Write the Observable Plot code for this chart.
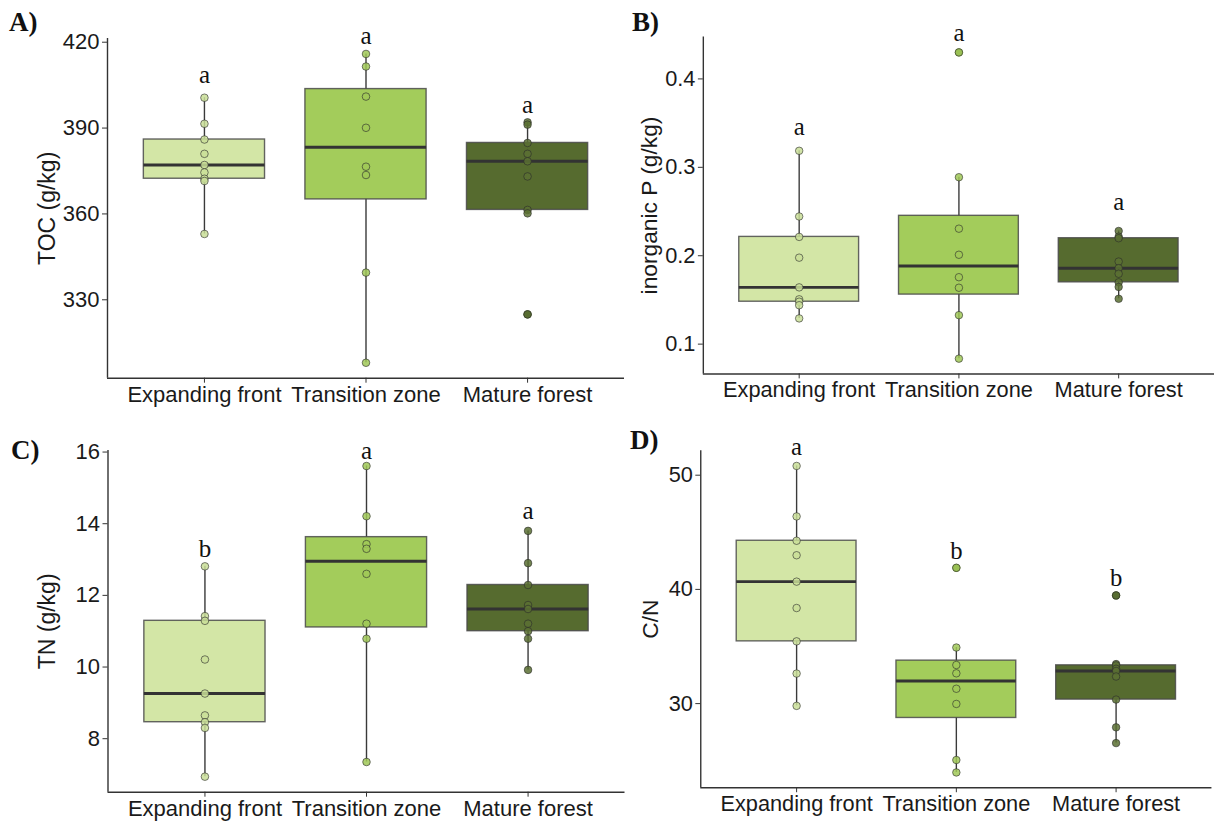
<!DOCTYPE html>
<html><head><meta charset="utf-8">
<script src="https://cdn.jsdelivr.net/npm/d3@7"></script>
<script src="https://cdn.jsdelivr.net/npm/@observablehq/plot@0.6"></script>
<style>
body{margin:0;background:#fff;overflow:hidden;width:1216px;height:823px;position:relative;font-family:"Liberation Sans",Arial,sans-serif}
.panel{position:absolute}
.tag{position:absolute;font-family:"Liberation Serif",serif;font-weight:bold;font-size:27px;line-height:1;color:#111}
</style></head><body>
<script>
const zones = ["Expanding front", "Transition zone", "Mature forest"];

// A) TOC (g/kg)
const tocExpanding = [400.6, 391.5, 386.0, 381.0, 377.1, 374.5, 372.3, 371.5, 353.0];
const tocTransition = [415.9, 411.5, 401.0, 390.1, 376.5, 373.6, 339.5, 308.0];
const tocMature = [392.0, 391.2, 384.8, 381.0, 378.4, 373.1, 361.4, 360.2, 324.9];
const tocTicks = [330, 360, 390, 420];
const tocLetters = ["a", "a", "a"];
const tocLetterY = [407.7, 421.3, 397.2];

// B) inorganic P (g/kg)
const ipExpanding = [0.3187, 0.2444, 0.2213, 0.1978, 0.1642, 0.1507, 0.148, 0.144, 0.1291];
const ipTransition = [0.43, 0.2888, 0.2306, 0.2011, 0.1757, 0.1638, 0.1328, 0.0836];
const ipMature = [0.228, 0.2216, 0.2198, 0.1934, 0.1859, 0.1796, 0.1699, 0.1647, 0.1513];
const ipTicks = [0.1, 0.2, 0.3, 0.4];
const ipLetters = ["a", "a", "a"];
const ipLetterY = [0.3434, 0.4495, 0.2585];

// C) TN (g/kg)
const tnExpanding = [12.81, 11.42, 11.29, 10.21, 9.26, 8.65, 8.46, 8.30, 6.94];
const tnTransition = [15.61, 14.21, 13.43, 13.30, 12.60, 11.21, 10.79, 7.35];
const tnMature = [13.80, 12.90, 12.29, 11.73, 11.62, 11.21, 11.0, 10.79, 9.92];
const tnTicks = [8, 10, 12, 14, 16];
const tnLetters = ["b", "a", "a"];
const tnLetterY = [13.25, 15.97, 14.29];

// D) C/N
const cnExpanding = [50.81, 46.39, 44.26, 42.99, 40.68, 38.37, 35.45, 32.63, 29.80];
const cnTransition = [41.89, 34.91, 33.38, 32.65, 31.30, 29.97, 25.06, 23.97];
const cnMature = [39.47, 33.46, 33.35, 33.05, 32.86, 32.37, 30.35, 27.92, 26.54];
const cnTicks = [30, 40, 50];
const cnLetters = ["a", "b", "b"];
const cnLetterY = [52.29, 43.22, 40.82];

const boxFill = ["#d3e6a6", "#a3cc5b", "#566b2f"];
const dotFill = ["#c9de98", "#a0c857", "#5b7033"];
const outFill = ["#9fbf6a", "#7c9c45", "#4a5d28"];

function makePanel(cfg) {
  const pts = [], stats = [], outs = [];
  cfg.values.forEach((vals, k) => {
    const i = k + 1;
    const s = vals.slice().sort(d3.ascending);
    const q1 = d3.quantile(s, 0.25), med = d3.quantile(s, 0.5), q3 = d3.quantile(s, 0.75);
    const iqr = q3 - q1, lo = q1 - 1.5 * iqr, hi = q3 + 1.5 * iqr;
    const inside = s.filter(v => v >= lo && v <= hi);
    stats.push({i, q1, med, q3, wlo: d3.min(inside), whi: d3.max(inside), letter: cfg.letters[k], ly: cfg.letterY[k]});
    vals.forEach(v => { pts.push({i, v}); if (v < lo || v > hi) outs.push({i, v}); });
  });
  const [mn, mx] = d3.extent(cfg.values.flat());
  const pad = (mx - mn) * 0.05;
  const half = 0.375;
  const svg = Plot.plot({
    width: cfg.width, height: cfg.height,
    marginLeft: cfg.mLeft, marginRight: cfg.mRight, marginTop: cfg.mTop, marginBottom: cfg.mBottom,
    style: {fontFamily: '"Liberation Sans", Arial, sans-serif', fontSize: "22px", color: "#222", background: "transparent", overflow: "visible"},
    color: {type: "identity"},
    x: {domain: [0.4, 3.6], axis: null},
    y: {domain: [mn - pad, mx + pad], axis: null},
    marks: [
      Plot.ruleX(stats, {x: "i", y1: "wlo", y2: "whi", stroke: "#3a3a3a", strokeWidth: 1.4}),
      Plot.rectY(stats, {x1: d => d.i - half, x2: d => d.i + half, y1: "q1", y2: "q3", fill: d => boxFill[d.i - 1], stroke: "#4a4a4a", strokeOpacity: 0.85, strokeWidth: 1.4}),
      Plot.ruleY(stats, {x1: d => d.i - half, x2: d => d.i + half, y: "med", stroke: "#333", strokeWidth: 3}),
      Plot.dot(outs, {x: "i", y: "v", r: 4.2, fill: d => outFill[d.i - 1], stroke: "none"}),
      Plot.dot(pts, {x: "i", y: "v", r: 3.8, fill: d => dotFill[d.i - 1], fillOpacity: 0.85, stroke: "#2a2a2a", strokeOpacity: 0.6, strokeWidth: 1}),
      Plot.ruleY([mn - pad], {stroke: "#333", strokeWidth: 1.4}),
      Plot.ruleX([0.4], {stroke: "#333", strokeWidth: 1.4}),
      Plot.axisX({ticks: [1, 2, 3], tickFormat: i => zones[i - 1], tickSize: 5, tickPadding: 3, fontSize: 22, stroke: "#333", fill: "#1a1a1a", label: null}),
      Plot.axisY({ticks: cfg.ticks, tickFormat: d => String(d), tickSize: 5, tickPadding: 3, fontSize: 22, stroke: "#333", fill: "#1a1a1a", label: null}),
      Plot.text([cfg.title], {frameAnchor: "left", textAnchor: "middle", rotate: -90, dx: cfg.titleDx, fontSize: 23, fill: "#1a1a1a"}),
      Plot.text(stats, {x: "i", y: "ly", text: "letter", fontFamily: '"Liberation Serif", serif', fontSize: 25, fill: "#111", dy: -2})
    ]
  });
  const div = document.createElement("div");
  div.className = "panel";
  div.style.left = cfg.left + "px";
  div.style.top = cfg.top + "px";
  div.appendChild(svg);
  document.body.appendChild(div);
  const tag = document.createElement("div");
  tag.className = "tag";
  tag.textContent = cfg.tag;
  tag.style.left = cfg.tagX + "px";
  tag.style.top = cfg.tagY + "px";
  document.body.appendChild(tag);
}

makePanel({values: [tocExpanding, tocTransition, tocMature], ticks: tocTicks, title: "TOC (g/kg)", letters: tocLetters, letterY: tocLetterY,
  left: 0, top: 0, width: 629, height: 410, mLeft: 107, mRight: 5, mTop: 38, mBottom: 32.3, titleDx: -60, tag: "A)", tagX: 9, tagY: 9});
makePanel({values: [ipExpanding, ipTransition, ipMature], ticks: ipTicks, title: "inorganic P (g/kg)", letters: ipLetters, letterY: ipLetterY,
  left: 600, top: 0, width: 623, height: 410, mLeft: 104, mRight: 2, mTop: 37, mBottom: 32.3, titleDx: -54, tag: "B)", tagX: 632, tagY: 9});
makePanel({values: [tnExpanding, tnTransition, tnMature], ticks: tnTicks, title: "TN (g/kg)", letters: tnLetters, letterY: tnLetterY,
  left: 0, top: 400, width: 629, height: 423, mLeft: 107.5, mRight: 4.5, mTop: 50, mBottom: 31.3, titleDx: -60.5, tag: "C)", tagX: 11, tagY: 437});
makePanel({values: [cnExpanding, cnTransition, cnMature], ticks: cnTicks, title: "C/N", letters: cnLetters, letterY: cnLetterY,
  left: 600, top: 400, width: 623, height: 423, mLeft: 101.4, mRight: 4.6, mTop: 50.7, mBottom: 31.3, titleDx: -51, tag: "D)", tagX: 630, tagY: 427});
</script>
</body></html>
